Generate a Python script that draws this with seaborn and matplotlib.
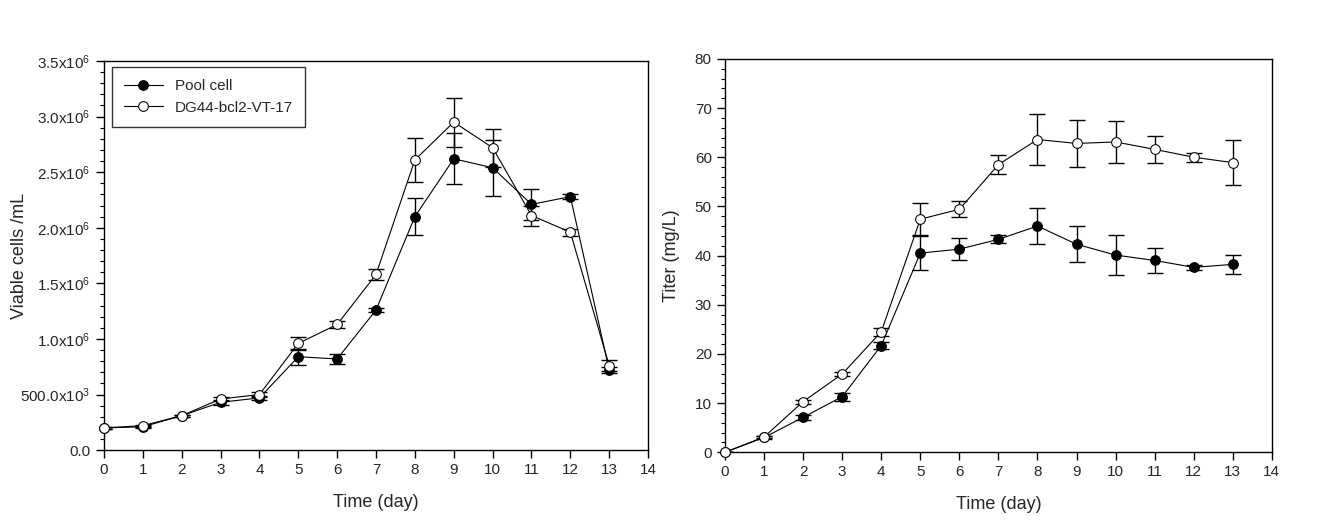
import numpy as np
import pandas as pd
import matplotlib
matplotlib.use("Agg")
import matplotlib.pyplot as plt
from matplotlib.ticker import MultipleLocator, FixedLocator, FixedFormatter
import seaborn as sns

days = list(range(14))

# viable cell density (cells/mL)
pool_vcd = [0.20e6, 0.21e6, 0.31e6, 0.43e6, 0.47e6, 0.84e6, 0.82e6, 1.26e6, 2.10e6, 2.62e6, 2.54e6, 2.21e6, 2.28e6, 0.72e6]
pool_vcd_err = [0.01e6, 0.01e6, 0.01e6, 0.02e6, 0.02e6, 0.07e6, 0.045e6, 0.02e6, 0.165e6, 0.23e6, 0.25e6, 0.14e6, 0.02e6, 0.03e6]
dg44_vcd = [0.20e6, 0.22e6, 0.31e6, 0.46e6, 0.50e6, 0.96e6, 1.13e6, 1.58e6, 2.61e6, 2.95e6, 2.72e6, 2.11e6, 1.96e6, 0.76e6]
dg44_vcd_err = [0.01e6, 0.01e6, 0.01e6, 0.02e6, 0.02e6, 0.06e6, 0.03e6, 0.05e6, 0.20e6, 0.22e6, 0.17e6, 0.09e6, 0.03e6, 0.05e6]

# titer (mg/L)
pool_titer = [0, 3.0, 7.1, 11.3, 21.7, 40.5, 41.3, 43.3, 46.0, 42.3, 40.1, 39.0, 37.6, 38.2]
pool_titer_err = [0, 0.3, 0.5, 0.8, 0.7, 3.4, 2.2, 0.8, 3.6, 3.7, 4.1, 2.6, 0.5, 2.0]
dg44_titer = [0, 3.1, 10.3, 15.9, 24.5, 47.4, 49.4, 58.5, 63.6, 62.8, 63.1, 61.6, 60.0, 58.9]
dg44_titer_err = [0, 0.3, 0.4, 0.4, 0.85, 3.3, 1.6, 1.9, 5.1, 4.8, 4.2, 2.7, 0.9, 4.6]

vcd_ticks = [0, 0.5e6, 1.0e6, 1.5e6, 2.0e6, 2.5e6, 3.0e6, 3.5e6]
vcd_ticklabels = ["0.0", r"$\mathregular{500.0x10^3}$", r"$\mathregular{1.0x10^6}$", r"$\mathregular{1.5x10^6}$",
                  r"$\mathregular{2.0x10^6}$", r"$\mathregular{2.5x10^6}$", r"$\mathregular{3.0x10^6}$", r"$\mathregular{3.5x10^6}$"]

sns.set_style("ticks")
plt.rcParams['font.family'] = ['Liberation Sans', 'DejaVu Sans']
plt.rcParams['mathtext.fontset'] = 'custom'
plt.rcParams['mathtext.rm'] = 'Liberation Sans'

fig = plt.figure(figsize=(13.24, 5.21), dpi=100)
ax1 = fig.add_axes([0.0785, 0.136, 0.411, 0.747])
ax2 = fig.add_axes([0.5476, 0.132, 0.413, 0.755])


def draw(ax, pool, pool_err, dg, dg_err):
    df = pd.DataFrame({
        "day": days * 2,
        "value": pool + dg,
        "group": ["Pool cell"] * 14 + ["DG44-bcl2-VT-17"] * 14,
    })
    ax.errorbar(days, pool, yerr=pool_err, fmt="none", ecolor="black", elinewidth=1, capsize=6, capthick=1, zorder=2)
    ax.errorbar(days, dg, yerr=dg_err, fmt="none", ecolor="black", elinewidth=1, capsize=6, capthick=1, zorder=2)
    sns.lineplot(data=df[df.group == "Pool cell"], x="day", y="value", ax=ax, color="black", lw=0.8,
                 marker="o", markersize=7, markerfacecolor="black", markeredgecolor="black",
                 label="Pool cell", zorder=3, clip_on=False)
    sns.lineplot(data=df[df.group == "DG44-bcl2-VT-17"], x="day", y="value", ax=ax, color="black", lw=0.8,
                 marker="o", markersize=7, markerfacecolor="white", markeredgecolor="black",
                 label="DG44-bcl2-VT-17", zorder=3, clip_on=False)
    ax.set_xlim(0, 14)
    ax.xaxis.set_major_locator(MultipleLocator(1))
    ax.set_xlabel("Time (day)", fontsize=13, labelpad=12)
    for s in ax.spines.values():
        s.set_color("black")
        s.set_linewidth(1)
    ax.tick_params(axis="both", which="major", direction="out", length=6, width=1, labelsize=11, color="black")
    ax.tick_params(axis="y", which="minor", direction="out", length=3, width=0.8, color="black")


draw(ax1, pool_vcd, pool_vcd_err, dg44_vcd, dg44_vcd_err)
ax1.set_ylim(0, 3.5e6)
ax1.yaxis.set_major_locator(FixedLocator(vcd_ticks))
ax1.yaxis.set_major_formatter(FixedFormatter(vcd_ticklabels))
ax1.yaxis.set_minor_locator(MultipleLocator(0.1e6))
ax1.set_ylabel("Viable cells /mL", fontsize=13)
ax1.yaxis.set_label_coords(-0.14, 0.5)
leg = ax1.legend(loc="upper left", fontsize=11, frameon=True, fancybox=False, borderpad=0.8,
                 handlelength=2.5, borderaxespad=0, bbox_to_anchor=(0.015, 0.985))
leg.get_frame().set_edgecolor("black")
leg.get_frame().set_linewidth(1)

draw(ax2, pool_titer, pool_titer_err, dg44_titer, dg44_titer_err)
ax2.set_ylim(0, 80)
ax2.yaxis.set_major_locator(MultipleLocator(10))
ax2.yaxis.set_minor_locator(MultipleLocator(2))
ax2.set_ylabel("Titer (mg/L)", fontsize=13)
ax2.yaxis.set_label_coords(-0.082, 0.5)
ax2.get_legend().remove()

fig.savefig("out.png", dpi=100)
